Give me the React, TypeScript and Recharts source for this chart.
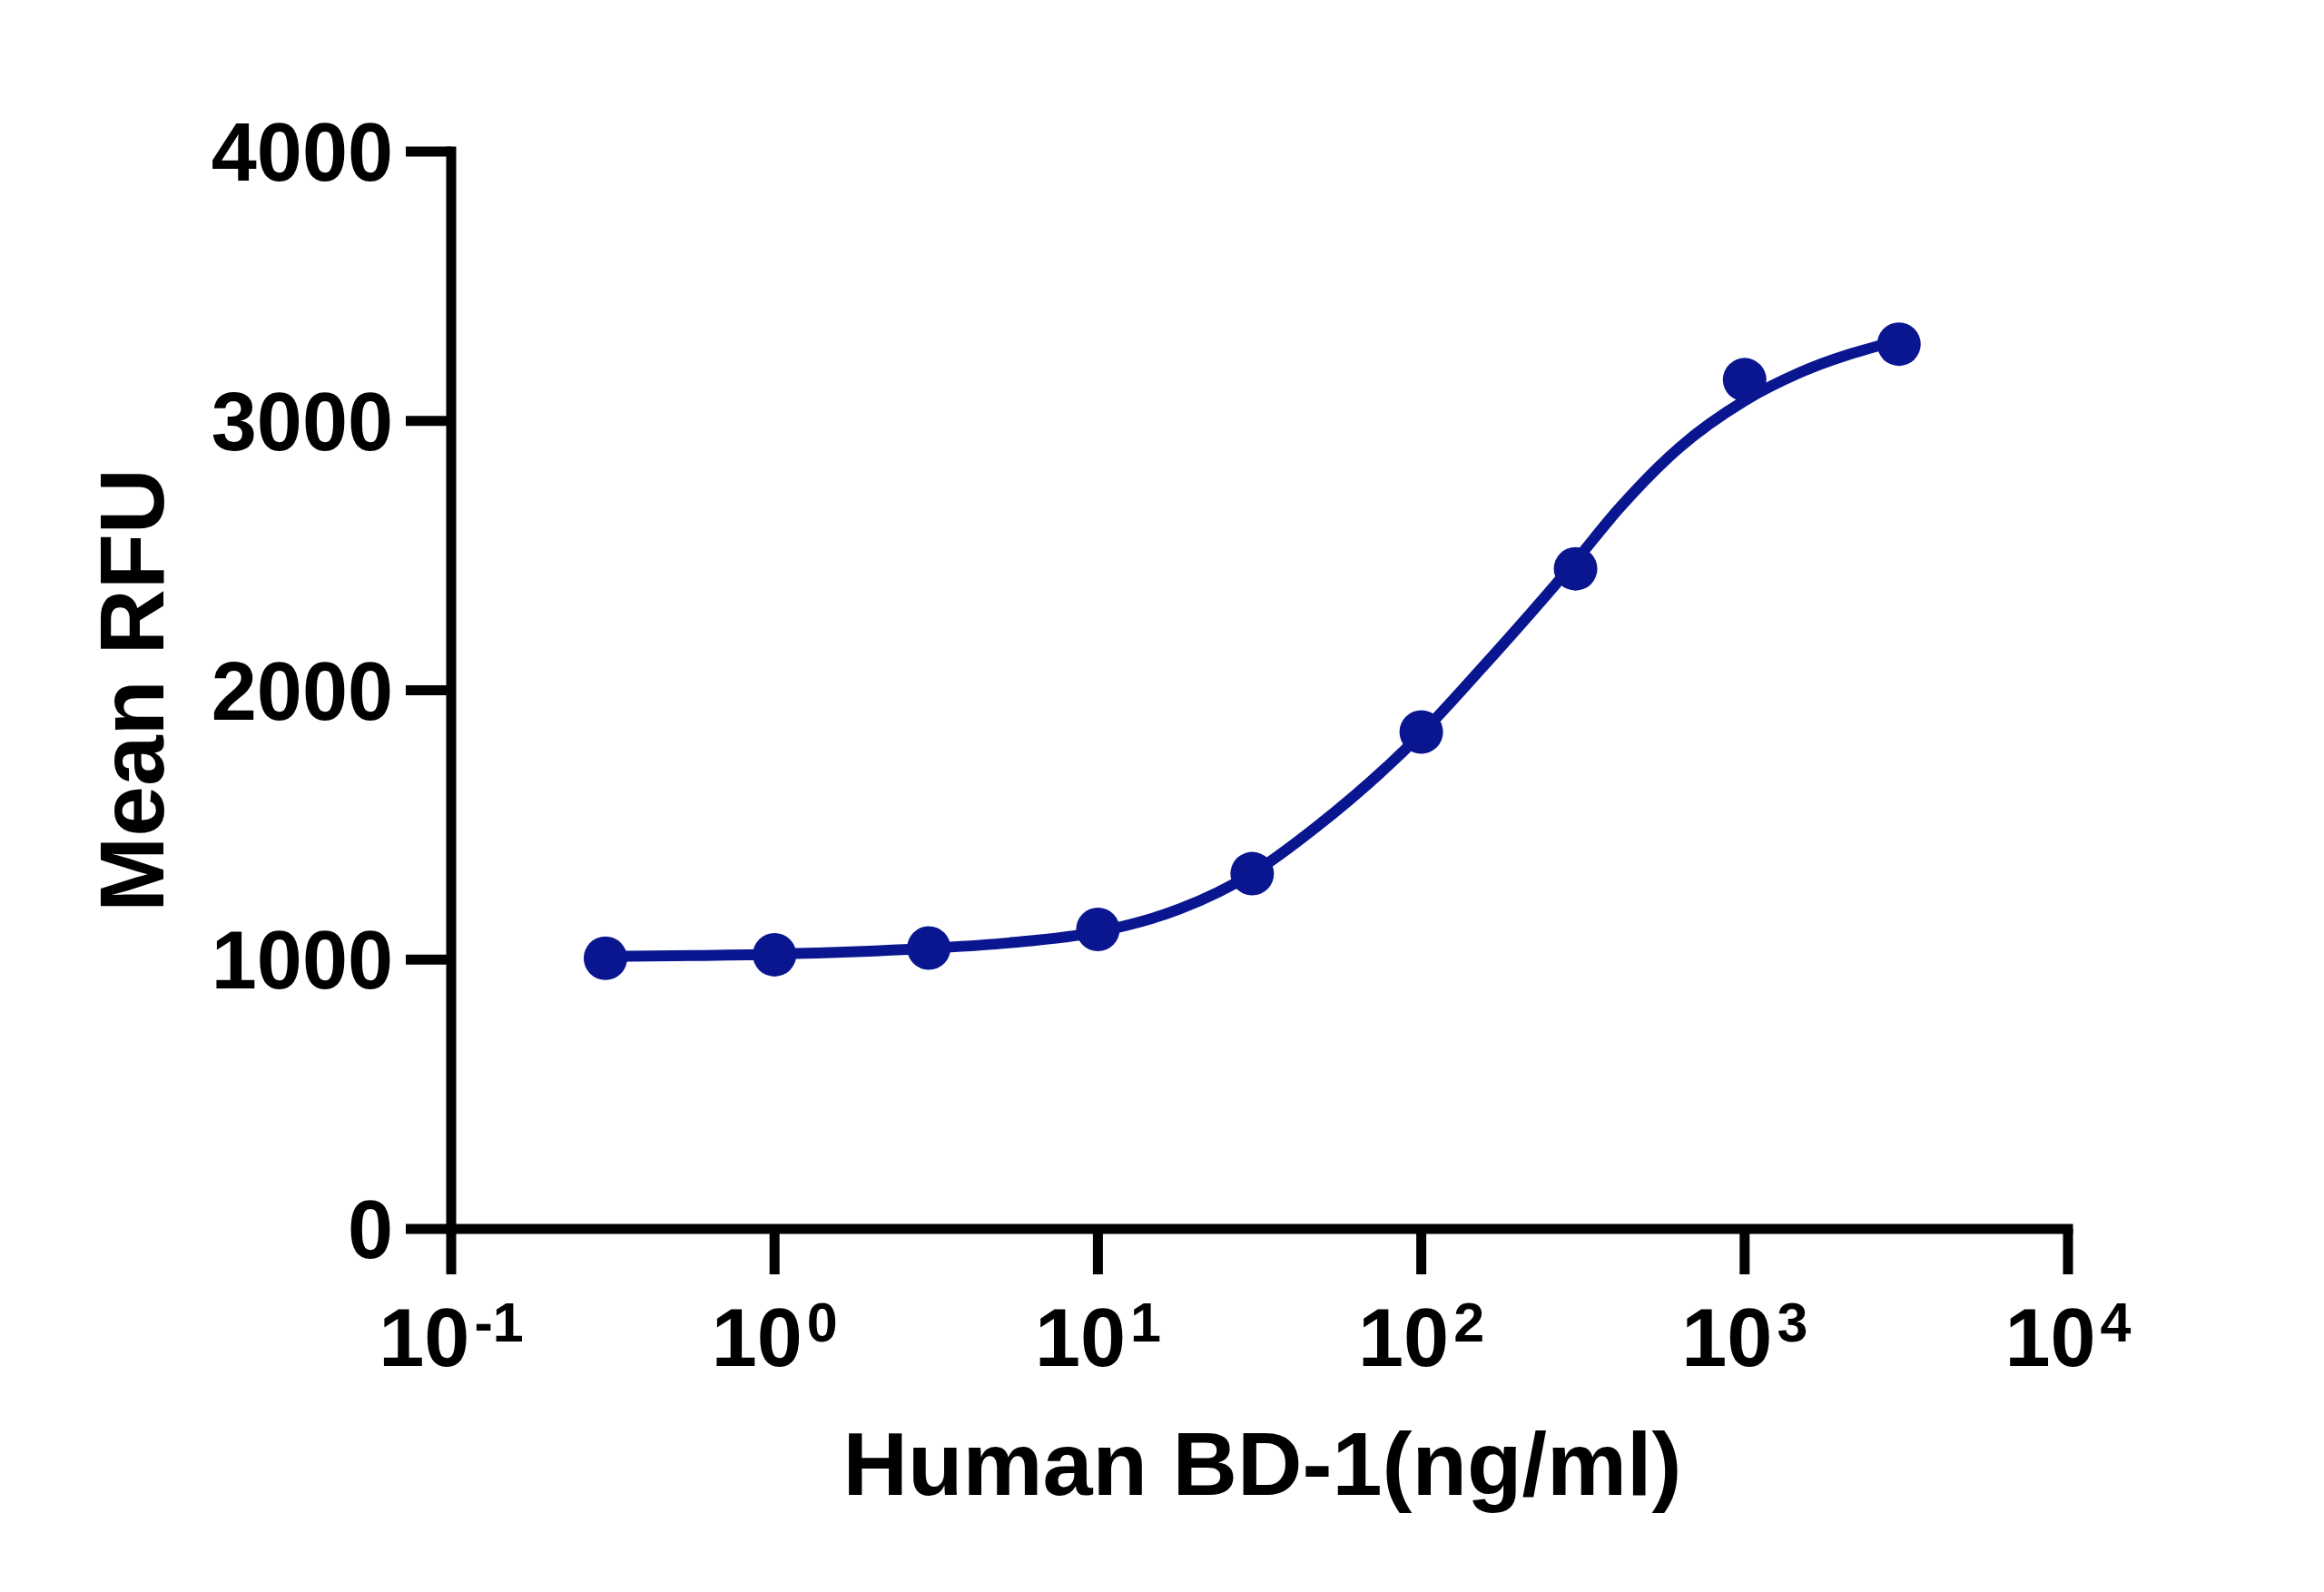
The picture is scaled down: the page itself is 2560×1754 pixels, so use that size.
import { ComposedChart, Label, Line, Scatter, XAxis, YAxis } from 'recharts';

// measured points: dose (ng/ml) vs mean RFU
const doses = [0.3, 1, 3, 10, 30, 100, 300, 1000, 3000];
const meanRfu = [1005, 1018, 1043, 1112, 1319, 1845, 2451, 3153, 3285];

// fitted curve
const fitDoses = [0.3, 1, 3, 5.3, 10, 17.9, 30, 47.3, 100, 154.5, 300, 407, 627, 1000, 1486, 3000];
const fitRfu = [1012, 1020, 1042, 1062, 1103, 1188, 1320, 1492, 1839, 2085, 2480, 2672, 2900, 3075, 3180, 3299];

const xTicks = [0.1, 1, 10, 100, 1000, 10000];
const yTicks = [0, 1000, 2000, 3000, 4000];

const points = doses.map((x, i) => ({ x, y: meanRfu[i] }));
const fit = fitDoses.map((x, i) => ({ x, y: fitRfu[i] }));

const FONT = '"Liberation Sans", Arial, sans-serif';
const NAVY = '#0a1690';

function XTick({ x, y, payload }: any) {
  const exp = Math.round(Math.log10(payload.value));
  return (
    <text x={x} y={y + 101} textAnchor="middle" fontFamily={FONT} fontWeight="bold" fontSize={90} fill="#000">
      <tspan>10</tspan>
      <tspan dx={5} dy={-27} fontSize={61}>{exp}</tspan>
    </text>
  );
}

function YTick({ x, y, payload }: any) {
  return (
    <text x={x} y={y + 32} textAnchor="end" fontFamily={FONT} fontWeight="bold" fontSize={90} fill="#000">
      {payload.value}
    </text>
  );
}

function XTitle({ viewBox }: any) {
  const cx = viewBox.x + viewBox.width / 2 + 3;
  return (
    <text x={cx} y={viewBox.y + 293} textAnchor="middle" fontFamily={FONT} fontWeight="bold" fontSize={99} fill="#000">
      Human BD-1(ng/ml)
    </text>
  );
}

function YTitle({ viewBox }: any) {
  const tx = viewBox.x + viewBox.width - 317;
  const ty = viewBox.y + viewBox.height / 2;
  return (
    <text
      x={tx}
      y={ty}
      textAnchor="middle"
      transform={`rotate(-90, ${tx}, ${ty})`}
      fontFamily={FONT}
      fontWeight="bold"
      fontSize={100}
      fill="#000"
    >
      Mean RFU
    </text>
  );
}

export default function App() {
  return (
    <div style={{ position: 'absolute', left: 0, top: 0, background: '#fff' }}>
      <ComposedChart width={2560} height={1754} margin={{ top: 167, right: 282, bottom: 398, left: 495 }}>
        <XAxis
          type="number"
          dataKey="x"
          scale="log"
          domain={[0.1, 10000]}
          ticks={xTicks}
          interval={0}
          allowDataOverflow
          height={2}
          tickSize={50}
          tickMargin={0}
          tick={<XTick />}
          axisLine={{ stroke: '#000', strokeWidth: 11, strokeLinecap: 'square' }}
          tickLine={{ stroke: '#000', strokeWidth: 11 }}
        >
          <Label content={<XTitle />} />
        </XAxis>
        <YAxis
          type="number"
          dataKey="y"
          domain={[0, 4000]}
          ticks={yTicks}
          interval={0}
          width={2}
          tickSize={50}
          tickMargin={14}
          tick={<YTick />}
          axisLine={{ stroke: '#000', strokeWidth: 11, strokeLinecap: 'square' }}
          tickLine={{ stroke: '#000', strokeWidth: 11 }}
        >
          <Label content={<YTitle />} />
        </YAxis>
        <Line
          data={fit}
          dataKey="y"
          type="monotone"
          stroke={NAVY}
          strokeWidth={12}
          dot={false}
          activeDot={false}
          isAnimationActive={false}
        />
        <Scatter
          data={points}
          dataKey="y"
          fill={NAVY}
          shape={(p: any) => <circle cx={p.cx} cy={p.cy} r={24} fill={NAVY} />}
          isAnimationActive={false}
        />
      </ComposedChart>
    </div>
  );
}
